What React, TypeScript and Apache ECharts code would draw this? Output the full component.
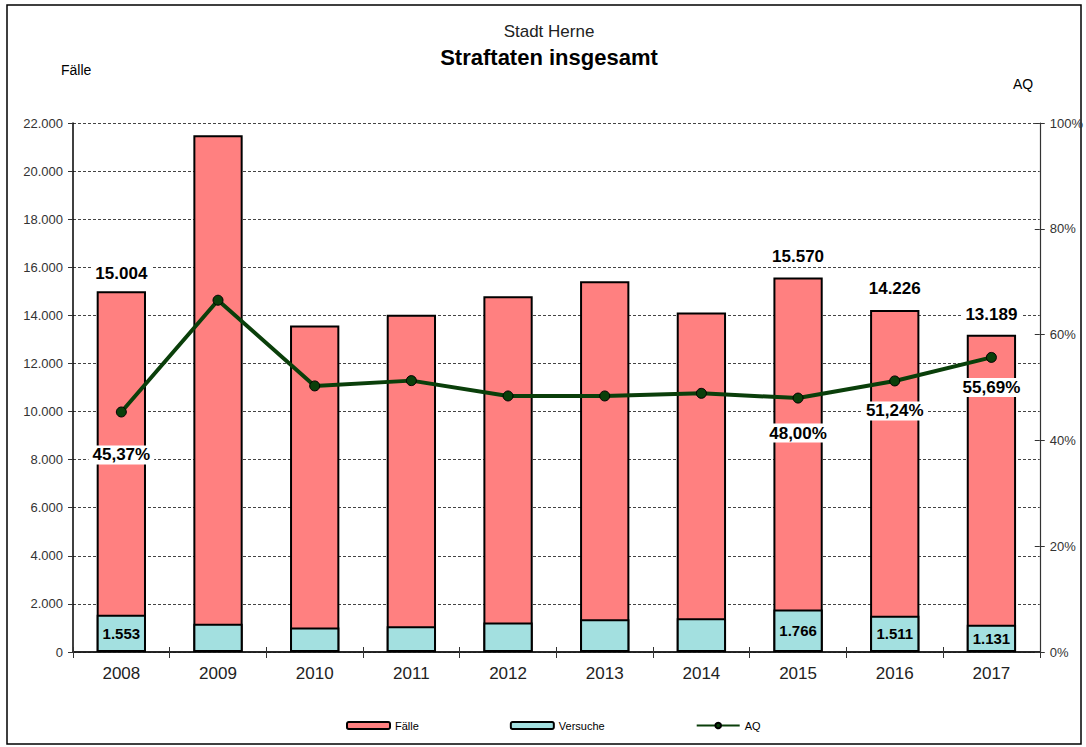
import React, { useEffect, useRef } from "react";
import * as echarts from "echarts";

const years = ["2008", "2009", "2010", "2011", "2012", "2013", "2014", "2015", "2016", "2017"];
const faelle = [15004, 21490, 13580, 14030, 14790, 15420, 14120, 15570, 14226, 13189];
const versuche = [1553, 1180, 1020, 1070, 1225, 1360, 1400, 1766, 1511, 1131];
const aq = [45.37, 66.5, 50.3, 51.3, 48.4, 48.4, 48.9, 48.0, 51.24, 55.69];
const labeledYears = ["2008", "2015", "2016", "2017"];
const faelleLabelDist: Record<string, number> = { "2008": 8, "2015": 12, "2016": 12, "2017": 11 };
const aqLabelDist: Record<string, number> = { "2008": 28, "2015": 20, "2016": 15, "2017": 15 };

const FONT = "'Liberation Sans', Arial, sans-serif";
const fmtThousands = (v: number) => String(Math.round(v)).replace(/\B(?=(\d{3})+(?!\d))/g, ".");
const fmtPct = (v: number) => v.toFixed(2).replace(".", ",") + "%";

export default function App() {
  const ref = useRef<HTMLDivElement>(null);
  useEffect(() => {
    if (!ref.current) return;
    const chart = echarts.init(ref.current, null, { renderer: "svg" });
    const gridLeft = 73;
    const gridRight = 46;
    const gridTop = 123;
    const gridBottom = 95;

    const faelleData = faelle.map((v, i) => {
      const y = years[i];
      if (!labeledYears.includes(y)) return v;
      return {
        value: v,
        label: {
          show: true,
          position: "top",
          distance: faelleLabelDist[y],
          formatter: (p: any) => fmtThousands(p.value),
          fontFamily: FONT,
          fontSize: 17,
          fontWeight: "bold",
          color: "#000",
          backgroundColor: "#fff",
          padding: [1, 4],
        },
      };
    });
    const versucheData = versuche.map((v, i) => {
      const y = years[i];
      if (!labeledYears.includes(y)) return v;
      return {
        value: v,
        label: {
          show: true,
          position: "inside",
          formatter: (p: any) => fmtThousands(p.value),
          fontFamily: FONT,
          fontSize: 15,
          fontWeight: "bold",
          color: "#000",
        },
      };
    });
    const aqData = aq.map((v, i) => {
      const y = years[i];
      if (!labeledYears.includes(y)) return v;
      return {
        value: v,
        label: {
          show: true,
          position: "bottom",
          distance: aqLabelDist[y],
          formatter: (p: any) => fmtPct(p.value),
          fontFamily: FONT,
          fontSize: 17,
          fontWeight: "bold",
          color: "#000",
          backgroundColor: "#fff",
          padding: [1, 4],
        },
      };
    });

    const option: any = {
      animation: false,
      backgroundColor: "#fff",
      textStyle: { fontFamily: FONT },
      grid: { left: gridLeft, right: gridRight, top: gridTop, bottom: gridBottom, containLabel: false },
      legend: {
        data: ["Fälle", "Versuche", "AQ"],
        left: 341,
        top: 715,
        itemWidth: 43,
        itemHeight: 7,
        itemGap: 91,
        textStyle: { fontFamily: FONT, fontSize: 11, color: "#000" },
      },
      xAxis: [
        {
          type: "category",
          data: years,
          position: "bottom",
          axisLine: { show: true, lineStyle: { color: "#7f7f7f", width: 1.5 } },
          axisTick: { show: true, alignWithLabel: false, length: 6, lineStyle: { color: "#333", width: 1 } },
          axisLabel: { fontFamily: FONT, fontSize: 17, color: "#222", margin: 13 },
          splitLine: { show: false },
        },
        {
          type: "category",
          data: years,
          position: "bottom",
          axisLine: { show: false },
          axisTick: { show: true, inside: true, length: 5, lineStyle: { color: "#333", width: 1 } },
          axisLabel: { show: false },
          splitLine: { show: false },
        },
        {
          type: "category",
          data: years,
          position: "top",
          axisLine: { show: true, lineStyle: { color: "#000", width: 1.5 } },
          axisTick: { show: false },
          axisLabel: { show: false },
          splitLine: { show: false },
        },
      ],
      yAxis: [
        {
          type: "value",
          min: 0,
          max: 22000,
          interval: 2000,
          position: "left",
          axisLine: { show: true, lineStyle: { color: "#000", width: 1.5 } },
          axisTick: { show: true, length: 5, lineStyle: { color: "#333" } },
          axisLabel: {
            fontFamily: FONT,
            fontSize: 13,
            color: "#333",
            margin: 10,
            formatter: (v: number) => fmtThousands(v),
          },
          splitLine: { show: true, lineStyle: { color: "#444", type: [3, 2], width: 1 } },
        },
        {
          type: "value",
          min: 0,
          max: 100,
          interval: 20,
          position: "right",
          axisLine: { show: true, lineStyle: { color: "#333", width: 1.2 } },
          axisTick: { show: true, length: 5, lineStyle: { color: "#333" } },
          axisLabel: { fontFamily: FONT, fontSize: 13, color: "#333", margin: 10, formatter: "{value}%" },
          splitLine: { show: false },
        },
        {
          type: "value",
          min: 0,
          max: 100,
          interval: 20,
          position: "right",
          axisLine: { show: false },
          axisTick: { show: true, inside: true, length: 5, lineStyle: { color: "#333" } },
          axisLabel: { show: false },
          splitLine: { show: false },
        },
      ],
      series: [
        {
          name: "Fälle",
          type: "bar",
          data: faelleData,
          barWidth: "51%",
          barGap: "-100%",
          itemStyle: { color: "#FF8080", borderColor: "#000", borderWidth: 2 },
          z: 2,
        },
        {
          name: "Versuche",
          type: "bar",
          data: versucheData,
          barWidth: "51%",
          barGap: "-100%",
          itemStyle: { color: "#A3E0E0", borderColor: "#000", borderWidth: 2 },
          z: 3,
        },
        {
          name: "AQ",
          type: "line",
          yAxisIndex: 1,
          data: aqData,
          symbol: "circle",
          symbolSize: 10,
          lineStyle: { color: "#0A3F0A", width: 4 },
          itemStyle: { color: "#0A3F0A", borderColor: "#000", borderWidth: 1 },
          z: 5,
        },
      ],
      graphic: [
        {
          type: "rect",
          shape: { x: 7, y: 5, width: 1074, height: 739 },
          style: { fill: "none", stroke: "#000", lineWidth: 1.5 },
          silent: true,
        },
        {
          type: "text",
          x: 549,
          y: 31,
          style: { text: "Stadt Herne", fontFamily: FONT, fontSize: 17, fill: "#222", align: "center", verticalAlign: "middle" },
        },
        {
          type: "text",
          x: 549,
          y: 57,
          style: {
            text: "Straftaten insgesamt",
            fontFamily: FONT,
            fontSize: 22,
            fontWeight: "bold",
            fill: "#000",
            align: "center",
            verticalAlign: "middle",
          },
        },
        {
          type: "text",
          x: 61,
          y: 70,
          style: { text: "Fälle", fontFamily: FONT, fontSize: 14, fill: "#000", align: "left", verticalAlign: "middle" },
        },
        {
          type: "text",
          x: 1013,
          y: 84,
          style: { text: "AQ", fontFamily: FONT, fontSize: 14, fill: "#000", align: "left", verticalAlign: "middle" },
        },
      ],
    };
    chart.setOption(option);
    return () => chart.dispose();
  }, []);
  return (
    <div
      ref={ref}
      style={{ position: "absolute", left: 0, top: 0, width: 1086, height: 747, background: "#fff" }}
    />
  );
}
